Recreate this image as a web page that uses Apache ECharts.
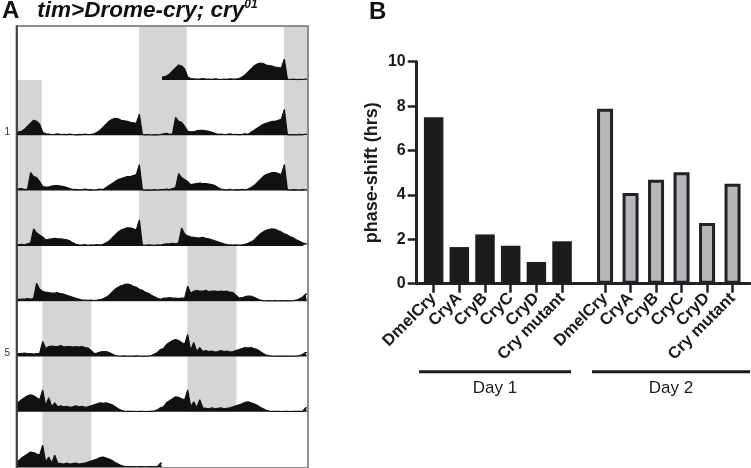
<!DOCTYPE html>
<html><head><meta charset="utf-8">
<script src="https://cdn.jsdelivr.net/npm/echarts@6/dist/echarts.min.js"></script>
<style>html,body{margin:0;padding:0;background:#fff}#c{width:751px;height:468px}</style>
</head><body><div id="c"></div>
<script>
// ---------- Panel B data ----------
const categories = ['DmelCry', 'CryA', 'CryB', 'CryC', 'CryD', 'Cry mutant'];
const day1Shift = [7.5, 1.65, 2.22, 1.71, 0.98, 1.91];
const day2Shift = [7.88, 4.08, 4.68, 5.02, 2.73, 4.5];
const groupLabels = ['Day 1', 'Day 2'];
const yTickInterval = 2;
const yMax = 10;

// ---------- Panel A data: activity per 30-min bin (48 bins/day), days 1..7 ----------
const day1Activity = [3,4,6,9,12,15,14,11,3,1.5, 1.2,0.8,1,1.5,0.8,1,0.6,1.2,0.8,0.5,1,0.7,1.2,0.8,1,1.5, 3,5,8,11,14,16,17,16.5,15,14.5,14,13,12.5,12,21,1, 0.5,0.8,0.3,0.6,0.5,0.8];
const day2Activity = [1.5,2,1,1.5,18,14,13,9,4,3.5, 3.5,4.5,5,5,4.5,4,3,2,1,1.2, 0.8,1,1.5,0.8,1,0.6,1,1.5,1,3, 5,7,9,11,12,13,14,14,15,16, 26,1,0.5,0.8,0.5,1,0.6,1];
const day3Activity = [1,1.5,1,2,3,17,13,11,9,6, 6.5,7,7.5,7,7,6.5,6,5,3,1.5, 1,0.8,1.2,0.6,1,0.8,1.2,0.8,1.5,3, 5,8,11,14,16,17,18,18,17,16, 26,1,0.5,1,0.8,0.5,1,0.7];
const day4Activity = [1.5,2,2,2.5,2,3,18,12,10,9, 8.5,8,8,8.5,7.5,7,6,5,4,3, 2,1.2,1,0.8,1,0.7,1,1.5,2.5,4, 6,9,12,14,15.5,16.5,17,16.5,15,14, 12,11,9,8,6,4.5,3,2];
const day5Activity = [3,3,3.5,3,3,2.5,3,3,15,8, 10,10.5,10,10,11,9.5,10,10,9.5,10, 9.5,10,9,8.5,6,3,3.5,4.5,5,5, 4,2.5,1,0.5,0.4,0.6,0.3,0.5,0.4,0.6, 0.3,0.5,0.4,0.5,1,2.5,4,7];
const day6Activity = [8,12,14,16,17,16,14,12,22,6, 14,5,9,5,6,5,5.5,4.5,5,6, 5,5.5,4.5,5,6,7,8,9,8.5,9, 8,7,5,3,1.5,0.8,0.5,0.4,0.5,0.3, 0.5,0.4,0.3,0.5,0.4,1,2,4];
const day7Activity = [5,9,11,13,15,14.5,13,12,22,5, 10,4,12,4,3.5,3,4,3,3.5,4, 3,3.5,4,5,6,7,8,9.5,10,9, 8,6.5,4.5,3,1.5,0.8,0.5,0.4,0.5,0.3, 0.5,0.4,0.3,0.5,0.4,0.5,0.4,4];
// shaded (light-schedule) intervals in hours, per day 0..8
const shadeDay0 = [[20.2, 24]];
const shadeDay1to3 = [[0, 4.1], [20.2, 24]];
const shadeDay4 = [[0, 4.1]];
const shadeDay5to7 = [[4.2, 12.3]];
const shadeDay8 = [];
const rowLabels = ['', '1', '', '', '', '5', '', ''];
const titleA = 'tim>Drome-cry; cry';
const titleSup = '01';

// ---------- build ----------
const activityByDay = [null, day1Activity, day2Activity, day3Activity, day4Activity, day5Activity, day6Activity, day7Activity, null];
const shadeByDay = [shadeDay0, shadeDay1to3, shadeDay1to3, shadeDay1to3, shadeDay4, shadeDay5to7, shadeDay5to7, shadeDay5to7, shadeDay8];
const BIN = 0.5;
const FONT = '"Liberation Sans", Arial, Helvetica, sans-serif';
const ROW_BASE0 = 80, ROW_H = 55.3, FRAME_TOP = 27;
const nRows = 8;

const grid = [], xAxis = [], yAxis = [], series = [];

function dayPoints(act, offset) {
  const pts = [[offset, act[0]]];
  act.forEach((v, k) => pts.push([offset + k * BIN + BIN / 2, v]));
  pts.push([offset + 24, act[act.length - 1]]);
  return pts;
}

for (let r = 0; r < nRows; r++) {
  const bottom = ROW_BASE0 + ROW_H * r;
  const top = r === 0 ? FRAME_TOP : bottom - ROW_H;
  const h = bottom - top;
  grid.push({ left: 17, width: 290, top: top, height: h });
  xAxis.push({ gridIndex: r, type: 'value', min: 0, max: 48, show: false });
  const lab = rowLabels[r];
  yAxis.push({
    gridIndex: r, type: 'value', min: 0, max: h,
    axisLine: { show: false }, axisTick: { show: false }, splitLine: { show: false },
    axisLabel: lab ? { show: true, customValues: [3.5], formatter: () => lab, fontSize: 10, color: '#333', margin: 7, fontFamily: FONT } : { show: false }
  });
  let data = [];
  if (activityByDay[r]) data = data.concat(dayPoints(activityByDay[r], 0));
  if (activityByDay[r + 1]) data = data.concat(dayPoints(activityByDay[r + 1], 24));
  const areas = [];
  shadeByDay[r].forEach(([a, b]) => areas.push([{ xAxis: a }, { xAxis: b }]));
  shadeByDay[r + 1].forEach(([a, b]) => areas.push([{ xAxis: 24 + a }, { xAxis: 24 + b }]));
  series.push({
    type: 'line', xAxisIndex: r, yAxisIndex: r, data: data,
    symbol: 'none', lineStyle: { color: '#111', width: 1.2 },
    areaStyle: { color: '#111', opacity: 1 },
    markArea: { silent: true, itemStyle: { color: '#d3d5d7', opacity: 1 }, data: areas }
  });
}

// frame grid (index 8)
grid.push({ left: 16.5, top: 26, width: 291.5, height: 470, show: true, borderColor: '#8d8d8d', borderWidth: 2, backgroundColor: 'transparent', z: 10 });
xAxis.push({ gridIndex: 8, type: 'value', show: false });
yAxis.push({ gridIndex: 8, type: 'value', min: 0, max: 1, z: 11,
  axisLine: { show: true, lineStyle: { color: '#2a2a2a', width: 1.5 } },
  axisTick: { show: false }, axisLabel: { show: false }, splitLine: { show: false } });

// Panel B base grid (index 9)
const B_TOP = 61.7, B_H = 222;
grid.push({ left: 416.7, top: B_TOP, width: 333.3, height: B_H });
xAxis.push({ gridIndex: 9, type: 'value', min: 0, max: 1,
  axisLine: { show: true, lineStyle: { color: '#222', width: 3 } },
  axisTick: { show: false }, axisLabel: { show: false }, splitLine: { show: false } });
yAxis.push({ gridIndex: 9, type: 'value', min: 0, max: yMax, interval: yTickInterval,
  name: 'phase-shift (hrs)', nameLocation: 'middle', nameGap: 36,
  nameTextStyle: { fontSize: 18, fontWeight: 'bold', color: '#1a1a1a', fontFamily: FONT },
  axisLine: { show: true, lineStyle: { color: '#222', width: 3 } },
  axisTick: { show: true, length: 9, lineStyle: { color: '#222', width: 2.5 } },
  axisLabel: { fontSize: 16, fontWeight: 'bold', color: '#1a1a1a', margin: 11, fontFamily: FONT },
  splitLine: { show: false } });

function catAxis(gi) {
  return { gridIndex: gi, type: 'category', data: categories,
    axisLine: { show: false },
    axisTick: { show: true, alignWithLabel: true, length: 9, lineStyle: { color: '#222', width: 2.5 } },
    axisLabel: { rotate: 45, interval: 0, fontSize: 16.5, fontWeight: 'bold', color: '#1a1a1a', margin: 12, fontFamily: FONT } };
}
grid.push({ left: 420.8, top: B_TOP, width: 154.1, height: B_H });
xAxis.push(catAxis(10));
yAxis.push({ gridIndex: 10, type: 'value', min: 0, max: yMax, show: false });
grid.push({ left: 592.3, top: B_TOP, width: 153, height: B_H });
xAxis.push(catAxis(11));
yAxis.push({ gridIndex: 11, type: 'value', min: 0, max: yMax, show: false });

series.push({ type: 'bar', xAxisIndex: 10, yAxisIndex: 10, data: day1Shift, barWidth: 19.5,
  itemStyle: { color: '#1c1c1c' } });
series.push({ type: 'bar', xAxisIndex: 11, yAxisIndex: 11, data: day2Shift, barWidth: 16,
  itemStyle: { color: '#b5b7ba', borderColor: '#222', borderWidth: 3 } });

const chart = echarts.init(document.getElementById('c'), null, { renderer: 'canvas' });
chart.setOption({
  animation: false,
  backgroundColor: '#fff',
  textStyle: { fontFamily: FONT },
  title: [
    { text: '{a|A}{t|' + titleA + '}{s|' + titleSup + '}', left: 2, top: -1, padding: 0,
      textStyle: { rich: {
        a: { fontSize: 24, fontWeight: 'bold', color: '#111', fontFamily: FONT },
        t: { fontSize: 22.5, fontWeight: 'bold', fontStyle: 'italic', color: '#111', fontFamily: FONT, padding: [0, 0, 0, 18] },
        s: { fontSize: 12, fontWeight: 'bold', fontStyle: 'italic', color: '#111', fontFamily: FONT, verticalAlign: 'top', padding: [0, 0, 8, 0] }
      } } },
    { text: 'B', left: 369, top: 0, padding: 0,
      textStyle: { fontSize: 24, fontWeight: 'bold', color: '#111', fontFamily: FONT } }
  ],
  grid: grid, xAxis: xAxis, yAxis: yAxis, series: series
});

// group brackets under the category labels
const groupAxes = [10, 11];
const gx = (ax, i) => chart.convertToPixel({ xAxisIndex: ax }, categories[i]);
const ext = [[14.6, 9], [13, 17.5]];
const graphics = [];
groupAxes.forEach((ax, g) => {
  const x1 = gx(ax, 0) - ext[g][0];
  const x2 = gx(ax, categories.length - 1) + ext[g][1];
  graphics.push({ type: 'line', shape: { x1: x1, y1: 371.7, x2: x2, y2: 371.7 }, style: { stroke: '#1a1a1a', lineWidth: 3 } });
  graphics.push({ type: 'text', x: (x1 + x2) / 2, y: 388, style: { text: groupLabels[g], fill: '#1a1a1a', font: '17px ' + FONT, textAlign: 'center', textVerticalAlign: 'middle' } });
});
chart.setOption({ graphic: graphics });
</script>
</body></html>
